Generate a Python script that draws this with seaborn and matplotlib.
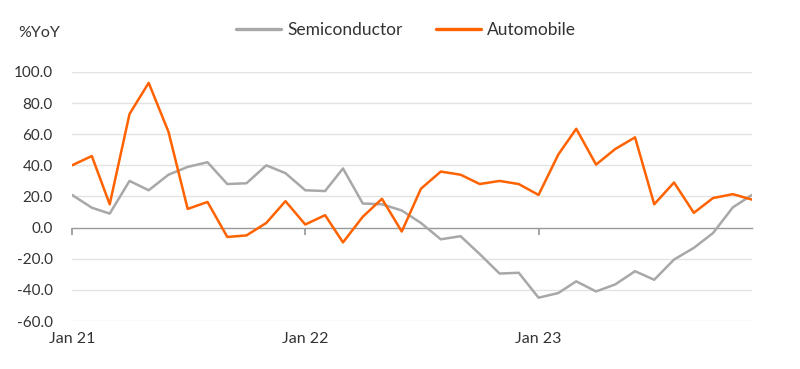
import pandas as pd
import numpy as np
import seaborn as sns
import matplotlib.pyplot as plt
import matplotlib.dates as mdates

# Monthly %YoY, Jan 21 - Dec 23
months = pd.date_range("2021-01-01", periods=36, freq="MS")

semiconductor = [21, 12.8, 9, 30, 24, 34, 39, 42, 28, 28.5, 40, 35,
                 24, 23.5, 38, 15.5, 15, 11, 3, -7.5, -5.5, -17, -29.5, -29,
                 -45, -42, -34.5, -41, -36.5, -28, -33.5, -20.5, -13, -3.5, 13, 21]
automobile = [40, 46, 15, 73, 93, 61.5, 12, 16.5, -6, -5, 3, 17,
              2, 8, -9.5, 7, 18.5, -2.5, 25, 36, 34, 28, 30, 28,
              21, 47, 63.5, 40.5, 50.5, 58, 15, 29, 9.5, 19, 21.5, 18]

series_names = ["Semiconductor", "Automobile"]
series_colors = ["#A8A8A8", "#FF6200"]
y_ticks = [100, 80, 60, 40, 20, 0, -20, -40, -60]

df = pd.DataFrame({"month": months, "Semiconductor": semiconductor, "Automobile": automobile})
long_df = df.melt(id_vars="month", var_name="series", value_name="yoy")

sns.set_theme(style="white")
plt.rcParams["font.family"] = ["Lato", "DejaVu Sans"]
text_color = "#333333"

fig = plt.figure(figsize=(8, 3.69), dpi=100)
ax = fig.add_axes([0.09, 0.130, 0.85, 0.675])

for y in y_ticks:
    if y != 0:
        ax.axhline(y, color="#E3E3E3", lw=1, zorder=0)

sns.lineplot(data=long_df, x="month", y="yoy", hue="series", hue_order=series_names,
             palette=series_colors, linewidth=1.8, ax=ax, legend=False, zorder=3)

ax.set_ylim(-60, 100)
ax.set_xlim(months[0], months[-1])
ax.set_yticks(y_ticks)
ax.set_yticklabels([f"{v:.1f}" for v in y_ticks], color=text_color, fontsize=11)
ax.tick_params(axis="y", length=0, pad=14)

jan_ticks = [m for m in months if m.month == 1]
ax.set_xticks(jan_ticks)
ax.xaxis.set_major_formatter(mdates.DateFormatter("%b %y"))
ax.tick_params(axis="x", length=0, pad=8, labelsize=11.5, labelcolor=text_color)

for s in ax.spines.values():
    s.set_visible(False)
ax.set_xlabel("")
ax.set_ylabel("")

# zero line with month ticks
zero_pos = 60 / 160
sec = ax.secondary_xaxis(zero_pos)
sec.set_xticks(jan_ticks)
sec.tick_params(axis="x", direction="out", length=5, color="#999999", labelbottom=False,
                labeltop=False)
sec.spines["bottom"].set_color("#999999")
sec.spines["bottom"].set_linewidth(1)
sec.xaxis.set_ticks_position("bottom")
sec.set_xticklabels([])

fig.text(18 / 800, 1 - 33 / 369, "%YoY", fontsize=11.5, color=text_color, va="center", ha="left")

handles = [plt.Line2D([], [], color=c, lw=2.4) for c in series_colors]
fig.legend(handles, series_names, loc="center", bbox_to_anchor=(406 / 800, 1 - 30 / 369), ncol=2,
           frameon=False, fontsize=12.5, handlelength=2.6, columnspacing=1.9, handletextpad=0.35,
           labelcolor=text_color)

fig.savefig("out.png", dpi=100)
